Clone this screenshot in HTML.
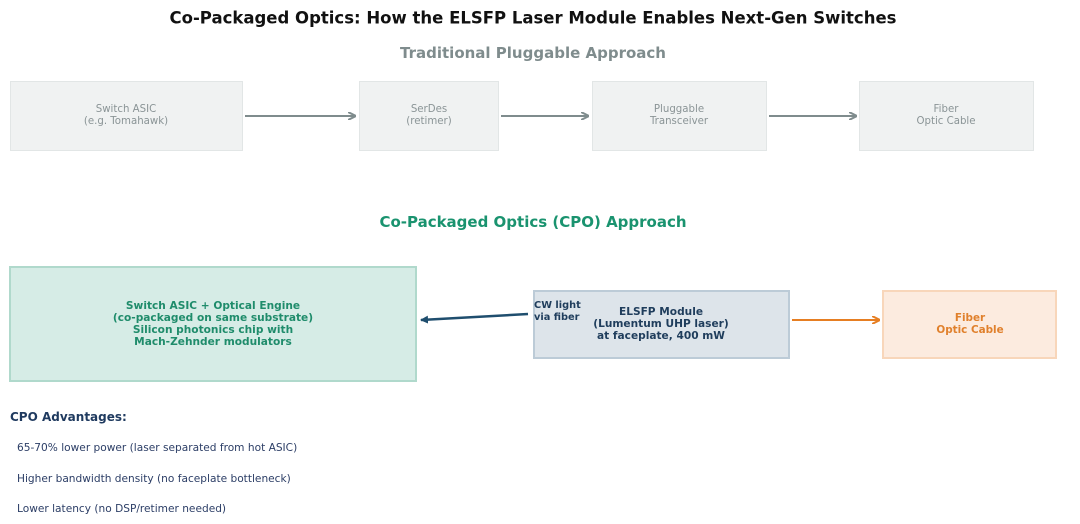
<!DOCTYPE html>
<html><head><meta charset="utf-8"><style>
body{margin:0;width:1080px;height:524px;background:#fff;position:relative;overflow:hidden;font-family:"DejaVu Sans","Liberation Sans",sans-serif}
.t{position:absolute;white-space:nowrap;transform:translate(-50%,-50%);text-align:center}
.b{position:absolute;box-sizing:border-box}
.g{color:#8a9496;font-size:10.2px;line-height:12px}
.l{position:absolute;white-space:nowrap;transform:translateY(-50%)}
</style></head><body>
<svg width="1080" height="524" style="position:absolute;left:0;top:0">
<defs>
<marker id="ag" markerWidth="8" markerHeight="8" refX="7" refY="4" orient="auto" markerUnits="userSpaceOnUse"><path d="M0,0 L8,4 L0,8" fill="none" stroke="#7f8c8d" stroke-width="2"/></marker>
<marker id="ab" markerWidth="8" markerHeight="8" refX="7" refY="4" orient="auto" markerUnits="userSpaceOnUse"><path d="M0,0 L8,4 L0,8 z" fill="#1f4e6e"/></marker>
<marker id="ao" markerWidth="8" markerHeight="8" refX="7" refY="4" orient="auto" markerUnits="userSpaceOnUse"><path d="M0,0 L8,4 L0,8" fill="none" stroke="#e67e22" stroke-width="2"/></marker>
</defs>
<line x1="245" y1="116" x2="355" y2="116" stroke="#7f8c8d" stroke-width="2" marker-end="url(#ag)"/>
<line x1="501" y1="116" x2="588" y2="116" stroke="#7f8c8d" stroke-width="2" marker-end="url(#ag)"/>
<line x1="769" y1="116" x2="856" y2="116" stroke="#7f8c8d" stroke-width="2" marker-end="url(#ag)"/>
<line x1="528" y1="314" x2="421" y2="320" stroke="#1f4e6e" stroke-width="2.5" marker-end="url(#ab)"/>
<line x1="792" y1="320" x2="879" y2="320" stroke="#e67e22" stroke-width="2" marker-end="url(#ao)"/>
</svg>
<div class="t" style="left:533px;top:18px;font-size:16.5px;font-weight:bold;color:#111">Co-Packaged Optics: How the ELSFP Laser Module Enables Next-Gen Switches</div>
<div class="t" style="left:533px;top:53px;font-size:15px;font-weight:bold;color:#7f8c8d">Traditional Pluggable Approach</div>

<div class="b" style="left:10px;top:81px;width:233px;height:70px;background:#f0f2f2;border:1.5px solid #e2e6e6"></div>
<div class="t g" style="left:126px;top:116px">Switch ASIC<br>(e.g. Tomahawk)</div>
<div class="b" style="left:359px;top:81px;width:140px;height:70px;background:#f0f2f2;border:1.5px solid #e2e6e6"></div>
<div class="t g" style="left:429px;top:116px">SerDes<br>(retimer)</div>
<div class="b" style="left:592px;top:81px;width:175px;height:70px;background:#f0f2f2;border:1.5px solid #e2e6e6"></div>
<div class="t g" style="left:679px;top:116px">Pluggable<br>Transceiver</div>
<div class="b" style="left:859px;top:81px;width:175px;height:70px;background:#f0f2f2;border:1.5px solid #e2e6e6"></div>
<div class="t g" style="left:946px;top:116px">Fiber<br>Optic Cable</div>

<div class="t" style="left:533px;top:222px;font-size:15px;font-weight:bold;color:#1a936f">Co-Packaged Optics (CPO) Approach</div>

<div class="b" style="left:9px;top:266px;width:408px;height:116px;background:#d6ece6;border:2px solid #b0d9cc"></div>
<div class="t" style="left:213px;top:324px;font-size:10.6px;line-height:12px;font-weight:bold;color:#1f8c6b">Switch ASIC + Optical Engine<br>(co-packaged on same substrate)<br>Silicon photonics chip with<br>Mach-Zehnder modulators</div>

<div class="b" style="left:533px;top:290px;width:257px;height:69px;background:#dde4ea;border:2px solid #bccbd7"></div>
<div class="t" style="left:661px;top:324px;font-size:10.6px;line-height:12px;font-weight:bold;color:#1f3d5c">ELSFP Module<br>(Lumentum UHP laser)<br>at faceplate, 400 mW</div>
<div style="position:absolute;left:534px;top:300px;font-size:9.8px;line-height:12px;font-weight:bold;color:#1f3d5c;white-space:nowrap">CW light<br>via fiber</div>

<div class="b" style="left:882px;top:290px;width:175px;height:69px;background:#fcebdf;border:2px solid #f8d6ba"></div>
<div class="t" style="left:970px;top:324px;font-size:10.4px;line-height:12px;font-weight:bold;color:#e0802c">Fiber<br>Optic Cable</div>

<div class="l" style="left:10px;top:417px;font-size:12px;font-weight:bold;color:#1f3a5f">CPO Advantages:</div>
<div class="l" style="left:17px;top:448px;font-size:10.6px;color:#2c3e66">65-70% lower power (laser separated from hot ASIC)</div>
<div class="l" style="left:17px;top:479px;font-size:10.6px;color:#2c3e66">Higher bandwidth density (no faceplate bottleneck)</div>
<div class="l" style="left:17px;top:509px;font-size:10.6px;color:#2c3e66">Lower latency (no DSP/retimer needed)</div>
</body></html>
